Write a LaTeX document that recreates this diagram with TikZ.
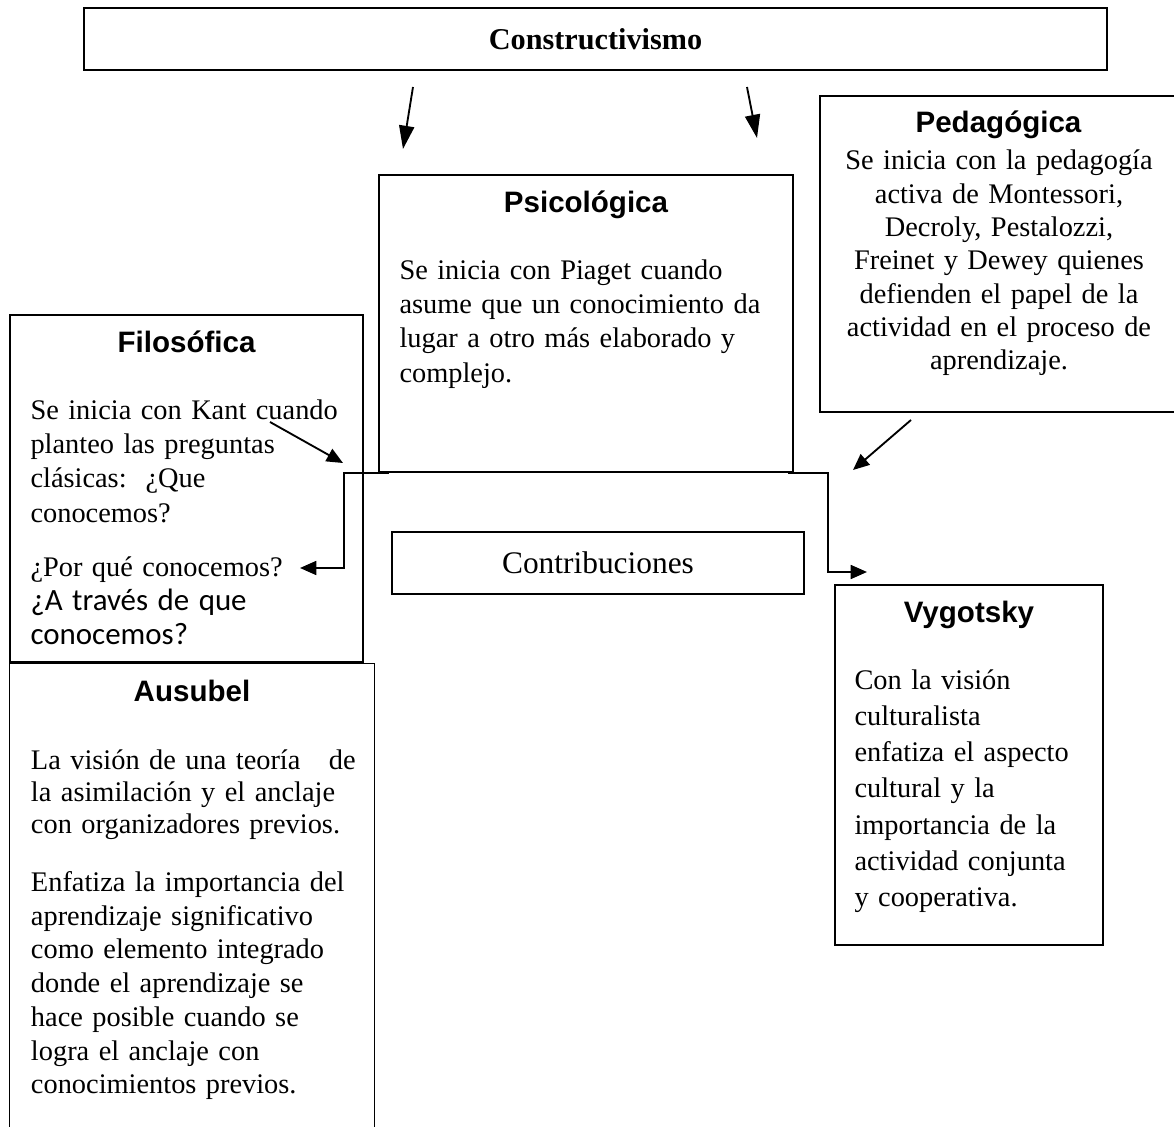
\documentclass[tikz,border=0pt]{standalone}
\usepackage{fontspec}
\setmainfont{Liberation Serif}
\newfontfamily\sansnegra{Liberation Sans}
\newfontfamily\calibri{Carlito}
\usepackage{tikz}
\usetikzlibrary{arrows.meta, positioning, fit, calc}

\tikzset{
  caja/.style={draw, line width=0.8pt, inner sep=0pt},
  titulo/.style={font=\sansnegra\bfseries\fontsize{12.7}{14}\selectfont, anchor=base, inner sep=0pt},
  cuerpo/.style={font=\fontsize{12.2}{#1}\selectfont, align=left, text width=170pt, anchor=base west, inner sep=0pt},
  flecha/.style={-{Triangle[length=7pt,width=6pt]}, line width=0.8pt},
  flechagrande/.style={-{Triangle[length=10pt,width=6.5pt]}, line width=0.8pt},
}

\begin{document}
\begin{tikzpicture}[x=0.43pt, y=-0.43pt]
    \useasboundingbox (0,0) rectangle (1174,1127);

    % --- Cajas ---
    \node[caja, fit={(84,8) (1107,70)}] (constr) {};
    \node[caja, fit={(379,175) (793,472)}] (psico) {};
    \node[caja, fit={(820,96) (1177,412)}] (pedag) {};
    \node[caja, fit={(10,315) (363,662)}] (filo) {};
    \node[caja, fit={(392,532) (804,594)}] (contrib) {};
    \node[caja, fit={(835,585) (1103,945)}] (vygot) {};
    % Ausubel: caja abierta por abajo
    \node[inner sep=0pt, fit={(10,664) (374,1128)}] (ausub) {};
    \draw[line width=0.8pt] (ausub.south west) -- (ausub.north west) -- (ausub.north east) -- (ausub.south east);

    % --- Titulos ---
    \node[font=\bfseries\fontsize{13}{15}\selectfont, inner sep=0pt] (constrTit) at (constr.center) {Constructivismo};
    \node[font=\fontsize{13.5}{16}\selectfont, inner sep=0pt] (contribTit) at (contrib.center) {Contribuciones};
    \node[titulo] (psicoTit) at ($(psico.north)+(0,38)$) {Psicológica};
    \node[titulo] (pedagTit) at ($(pedag.north)+(0,37)$) {Pedagógica};
    \node[titulo] (filoTit) at ($(filo.north)+(0,38)$) {Filosófica};
    \node[titulo] (vygotTit) at ($(vygot.north)+(0,38)$) {Vygotsky};
    \node[titulo] (ausubTit) at ($(ausub.north)+(0,38)$) {Ausubel};

    % --- Textos ---
    \node[cuerpo=14.8] (psicoTxt) at ($(psico.north west)+(21,105)$)
        {Se inicia con Piaget cuando\\asume que un conocimiento da\\lugar a otro más elaborado y\\complejo.};
    \node[cuerpo=14.3, align=center, text width=160pt, anchor=base] (pedagTxt) at (999,170)
        {Se inicia con la pedagogía\\activa de Montessori,\\Decroly, Pestalozzi,\\Freinet y Dewey quienes\\defienden el papel de la\\actividad en el proceso de\\aprendizaje.};
    \node[cuerpo=14.8] (filoTxtA) at ($(filo.north west)+(21,105)$)
        {Se inicia con Kant cuando\\planteo las preguntas\\clásicas:\ \ ¿Que\\conocemos?};
    \node[cuerpo=14.7] (filoTxtB) at ($(filo.north west)+(21,262)$)
        {¿Por qué conocemos?\\{\calibri\fontsize{13.3}{14.7}\selectfont ¿A través de que}\\{\calibri\fontsize{13.3}{14.7}\selectfont conocemos?}};
    \node[cuerpo=15.6] (vygotTxt) at ($(vygot.north west)+(20,105)$)
        {Con la visión\\culturalista\\enfatiza el aspecto\\cultural y la\\importancia de la\\actividad conjunta\\y cooperativa.};
    \node[cuerpo=13.7] (ausubTxtA) at ($(ausub.north west)+(21,106)$)
        {La visión de una teoría\ \ \ de\\la asimilación y el anclaje\\con organizadores previos.};
    \node[cuerpo=14.5] (ausubTxtB) at ($(ausub.north west)+(21,228)$)
        {Enfatiza la importancia del\\aprendizaje significativo\\como elemento integrado\\donde el aprendizaje se\\hace posible cuando se\\logra el anclaje con\\conocimientos previos.};

    % --- Flechas sueltas ---
    \coordinate (sal1) at (413,87);
    \coordinate (lle1) at (403,149);
    \coordinate (sal2) at (747,87);
    \coordinate (lle2) at (757,138);
    \coordinate (salKant) at (270,422);
    \coordinate (lleKant) at (343,463);
    \coordinate (salPed) at (911,420);
    \coordinate (llePed) at (853,470);
    \draw[flechagrande] (sal1) -- (lle1);
    \draw[flechagrande] (sal2) -- (lle2);
    \draw[flecha] (salKant) -- (lleKant);
    \draw[flecha] (salPed) -- (llePed);

    % --- Conectores desde Psicologica ---
    \coordinate (izqA) at ($(psico.south west)+(11,0)$);
    \coordinate (filoP) at (300,568);
    \coordinate (derA) at ($(psico.south east)+(-6,0)$);
    \coordinate (vygotP) at (867,572);
    \draw[flecha] (izqA) -- ++(-45,0) |- (filoP);
    \draw[flecha] (derA) -- ++(40,0) |- (vygotP);
\end{tikzpicture}
\end{document}
